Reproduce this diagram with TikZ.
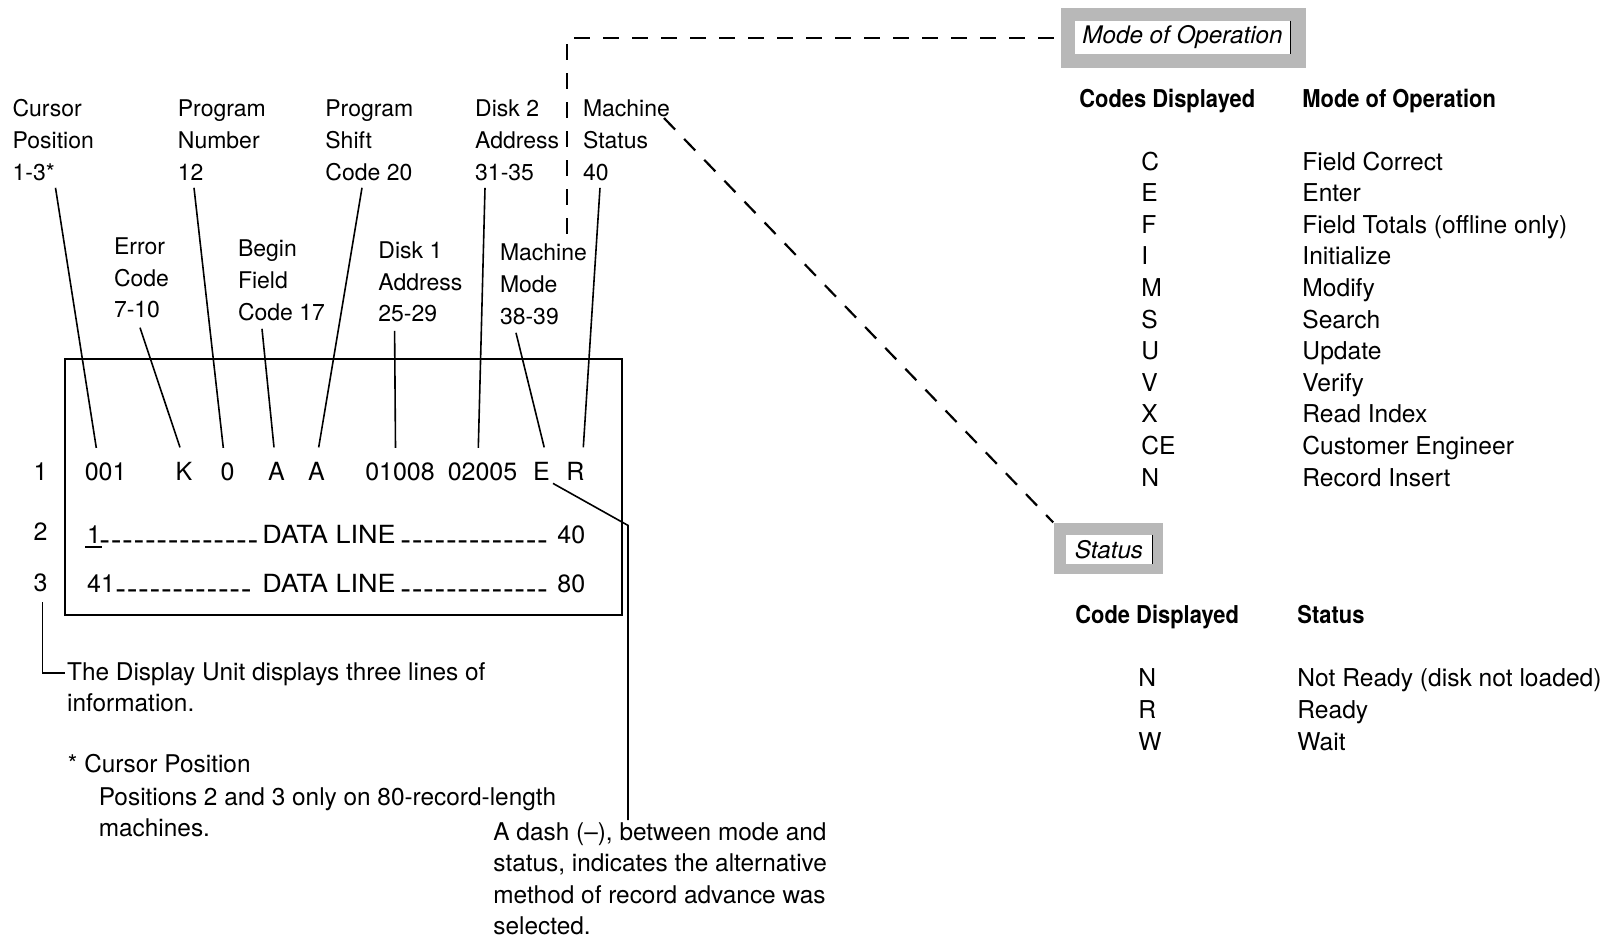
\documentclass[tikz,border=0pt]{standalone}
\usepackage{fontspec}
\setmainfont{TeX Gyre Heros}
\usepackage{graphicx}
\newcommand\dsh[1]{\foreach \i in {1,...,#1}{\raisebox{-0.28em}{\scalebox{1.3}[1.25]{-}}\kern0.29pt}}
\newcommand\hdrtxt[1]{\scalebox{0.89}[1]{\bfseries #1}}
\tikzset{
  lbl/.style={anchor=north west, inner sep=0, align=left, font=\fontsize{11.5}{15.85}\selectfont},
  item/.style={anchor=base, inner sep=0, font=\fontsize{12.5}{15}\selectfont},
  rowtxt/.style={anchor=base west, inner sep=0, font=\fontsize{12.5}{15}\selectfont},
  rownum/.style={anchor=base, inner sep=0, font=\fontsize{12.5}{15}\selectfont},
  tab/.style={anchor=base west, inner sep=0, font=\fontsize{12.3}{15}\selectfont},
  note/.style={anchor=north west, inner sep=0, align=left, font=\fontsize{12.2}{15.6}\selectfont},
  leader/.style={line width=0.8pt},
  dashline/.style={line width=1.1pt, dash pattern=on 8pt off 6.5pt},
  stipple/.style={fill=black!28, inner sep=0},
  tag/.style={fill=white, inner sep=0, font=\fontsize{12.1}{15}\selectfont\itshape},
}
\begin{document}
\begin{tikzpicture}[x=0.5pt, y=-0.5pt]
\useasboundingbox (0,0) rectangle (1607,939);
\fill[white] (0,0) rectangle (1607,939);

% labels
\node[lbl] (lCur) at (12.2,94.3) {\strut Cursor\\Position\\1-3*\strut};
\node[lbl] (lPN) at (177.5,94.3) {\strut Program\\Number\\12\strut};
\node[lbl] (lPS) at (325,94.3) {\strut Program\\Shift\\Code 20\strut};
\node[lbl] (lD2) at (474.8,94.3) {\strut Disk 2\\Address\\31-35\strut};
\node[lbl] (lMS) at (582.6,94.3) {\strut Machine\\Status\\40\strut};
\node[lbl] (lEC) at (113.6,231.8) {\strut Error\\Code\\7-10\strut};
\node[lbl] (lBF) at (237.6,234.3) {\strut Begin\\Field\\Code 17\strut};
\node[lbl] (lD1) at (378,235.8) {\strut Disk 1\\Address\\25-29\strut};
\node[lbl] (lMM) at (499.6,238.3) {\strut Machine\\Mode\\38-39\strut};

% display box
\draw[line width=1.1pt] (65,359) rectangle (622,615);

% row numbers
\node[rownum] (rl1) at (40.5,480) {1};
\node[rownum] (rl2) at (40.5,540) {2};
\node[rownum] (rl3) at (40.5,591.7) {3};

% row 1 items
\node[item] (i001) at (105.6,480) {001};
\node[item] (iK) at (184,480) {K};
\node[item] (i0) at (227.5,480) {0};
\node[item] (iA1) at (276.5,480) {A};
\node[item] (iA2) at (316.5,480) {A};
\node[item] (i01008) at (400,480) {01008};
\node[item] (i02005) at (482.5,480) {02005};
\node[item] (iE) at (541.5,480) {E};
\node[item] (iR) at (575.5,480) {R};

% rows 2 and 3
\node[rowtxt] (r2a) at (86.7,543) {1};
\node[rowtxt] (r2b) at (99,543) {\dsh{14}};
\node[rowtxt] (r2c) at (262,543) {\scalebox{1.08}[1]{DATA LINE}};
\node[rowtxt] (r2d) at (400,543) {\dsh{13}};
\node[rowtxt] (r2e) at (557,543) {40};
\node[rowtxt] (r3a) at (86.7,592) {41};
\node[rowtxt] (r3b) at (115,592) {\dsh{12}};
\node[rowtxt] (r3c) at (262,592) {\scalebox{1.08}[1]{DATA LINE}};
\node[rowtxt] (r3d) at (400,592) {\dsh{13}};
\node[rowtxt] (r3e) at (557,592) {80};
\draw[line width=1.4pt] ([shift={(-1.7,4)}]r2a.base west) -- ++(17,0);

% leaders
\draw[leader] ([shift={(43.3,-2.4)}]lCur.south west) -- ([shift={(-9.3,-14)}]i001.north);
\draw[leader] ([shift={(16.5,-2.4)}]lPN.south west) -- ([shift={(-4.2,-14)}]i0.north);
\draw[leader] ([shift={(37,-2.4)}]lPS.south west) -- ([shift={(2.2,-14)}]iA2.north);
\draw[leader] ([shift={(10.2,-2.4)}]lD2.south west) -- ([shift={(-4.2,-14)}]i02005.north);
\draw[leader] ([shift={(17.4,-2.4)}]lMS.south west) -- ([shift={(7.8,-14)}]iR.north);
\draw[leader] ([shift={(26.4,0)}]lEC.south west) -- ([shift={(-4,-14)}]iK.north);
\draw[leader] ([shift={(24.4,-1.4)}]lBF.south west) -- ([shift={(-2.5,-14)}]iA1.north);
\draw[leader] ([shift={(16.6,-0.9)}]lD1.south west) -- ([shift={(-4.5,-14)}]i01008.north);
\draw[leader] ([shift={(16.4,-1.4)}]lMM.south west) -- ([shift={(2.7,-14)}]iE.north);

% tag boxes
\node[stipple, minimum width=122.5pt, minimum height=30pt] (modebox) at (1183.5,38) {};
\node[tag, minimum width=107.5pt, minimum height=16.5pt] (modelbl) at (1182.5,37.5) {Mode of Operation};
\draw[line width=0.6pt] (modelbl.north east) -- (modelbl.south east);
\node[stipple, minimum width=54.7pt, minimum height=25.6pt] (statusbox) at (1108.3,548.4) {};
\node[tag, minimum width=43pt, minimum height=14.5pt] (statuslbl) at (1109,549.5) {Status};
\draw[line width=0.6pt] (statuslbl.north east) -- (statuslbl.south east);

% dashed connectors
\draw[dashline] ([shift={(67.4,-4.6)}]lMM.north west) |- (modebox.west);
\draw[dashline] ([shift={(81.4,23.7)}]lMS.north west) -- (statusbox.north west);

% table 1
\node[tab] (h1a) at (1079,107) {\hdrtxt{Codes Displayed}};
\node[tab] (h1b) at (1302,107) {\hdrtxt{Mode of Operation}};
\foreach \c/\d [count=\k] in {C/Field Correct, E/Enter, F/Field Totals (offline only), I/Initialize, M/Modify, S/Search, U/Update, V/Verify, X/Read Index, CE/Customer Engineer, N/Record Insert}{
  \node[tab] (c\k) at (1141,{170+31.6*(\k-1)}) {\c};
  \node[tab] (d\k) at (1302,{170+31.6*(\k-1)}) {\d};
}

% table 2
\node[tab] (h2a) at (1075,623) {\hdrtxt{Code Displayed}};
\node[tab] (h2b) at (1297,623) {\hdrtxt{Status}};
\foreach \c/\d [count=\k] in {N/Not Ready (disk not loaded), R/Ready, W/Wait}{
  \node[tab] (sc\k) at (1138,{686.5+31.8*(\k-1)}) {\c};
  \node[tab] (sd\k) at (1297,{686.5+31.8*(\k-1)}) {\d};
}

% notes
\node[note] (note1) at (66.7,657.9) {\strut The Display Unit displays three lines of\\information.};
\node[note] (note3a) at (67.6,749.9) {\strut * Cursor Position};
\node[note] (note3b) at (98.4,782.9) {\strut Positions 2 and 3 only on 80-record-length\\machines.};
\node[note] (note2) at (493,818.5) {\strut A dash (--), between mode and\\status, indicates the alternative\\method of record advance was\\selected.};

\draw[leader] ([shift={(2,10)}]rl3.south) |- ([shift={(-1.7,15.1)}]note1.north west);
\draw[leader] ([shift={(11.5,3)}]iE.south) -- ++(75,42) -- ([shift={(135,1.5)}]note2.north west);
\end{tikzpicture}
\end{document}
